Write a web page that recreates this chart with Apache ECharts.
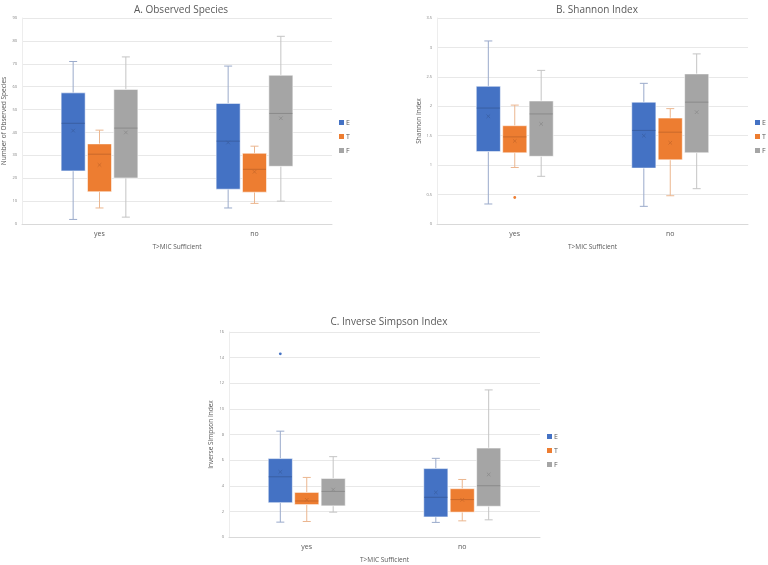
<!DOCTYPE html>
<html>
<head>
<meta charset="utf-8">
<script src="https://cdn.jsdelivr.net/npm/echarts@6/dist/echarts.min.js"></script>
<style>html,body{margin:0;padding:0;background:#fff}#c{width:768px;height:565px}</style>
</head>
<body>
<div id="c"></div>
<script>
const categories = ['yes', 'no'];
const seriesNames = ['E', 'T', 'F'];
const yTicksA = [0, 10, 20, 30, 40, 50, 60, 70, 80, 90];
const yTicksB = [0, 0.5, 1, 1.5, 2, 2.5, 3, 3.5];
const yTicksC = [0, 2, 4, 6, 8, 10, 12, 14, 16];
// each row: [min, Q1, median, Q3, max, mean]; rows ordered as categories (yes, no)
const observedE = [[2, 23.2, 44, 57.3, 71, 40.8], [7, 15.2, 36.2, 52.7, 69, 35.6]];
const observedT = [[7, 14.1, 30.5, 35, 41, 25.8], [9, 13.9, 23.9, 30.9, 34, 22.8]];
const observedF = [[3, 20.1, 41.9, 58.8, 73, 40], [10, 25.2, 48.3, 65, 82, 46.2]];
const shannonE = [[0.34, 1.23, 1.97, 2.34, 3.11, 1.83], [0.30, 0.95, 1.59, 2.07, 2.39, 1.50]];
const shannonT = [[0.96, 1.21, 1.48, 1.67, 2.02, 1.41], [0.48, 1.09, 1.56, 1.80, 1.96, 1.38]];
const shannonF = [[0.81, 1.15, 1.87, 2.09, 2.61, 1.70], [0.60, 1.21, 2.07, 2.55, 2.89, 1.90]];
const invSimpsonE = [[1.16, 2.68, 4.70, 6.12, 8.26, 5.08], [1.14, 1.57, 3.10, 5.34, 6.14, 3.48]];
const invSimpsonT = [[1.21, 2.53, 2.81, 3.48, 4.65, 2.90], [1.26, 1.94, 2.92, 3.77, 4.49, 2.90]];
const invSimpsonF = [[1.94, 2.43, 3.56, 4.57, 6.27, 3.70], [1.34, 2.40, 4.00, 6.94, 11.48, 4.88]];
// outliers: [series, category, value]
const shannonOutliers = [['T', 'yes', 0.45]];
const invSimpsonOutliers = [['E', 'yes', 14.3]];

const fillColors = ['#4472C4', '#ED7D31', '#A5A5A5'];
const darkColors = ['#3A5FA3', '#C9682A', '#8A8A8A'];
const whiskerColors = ['#9AAACB', '#EBB68F', '#C4C4C4'];
const FONT = '"Open Sans", "Noto Sans", sans-serif';

function boxRender(k) {
  return function (params, api) {
    const ci = api.value(0);
    const band = api.size([1, 0])[0];
    const off = (k - 1) * band * 0.17;
    const bw = band * 0.155;
    const c = i => api.coord([ci, api.value(i)]);
    const cx = c(1)[0] + off;
    const yMin = c(1)[1], yQ1 = c(2)[1], yMed = c(3)[1], yQ3 = c(4)[1], yMax = c(5)[1], yMean = c(6)[1];
    const cap = 4;
    const ws = { stroke: whiskerColors[k], lineWidth: 1 };
    const ms = 1.8;
    return {
      type: 'group',
      children: [
        { type: 'line', shape: { x1: cx, y1: yQ3, x2: cx, y2: yMax }, style: ws },
        { type: 'line', shape: { x1: cx, y1: yQ1, x2: cx, y2: yMin }, style: ws },
        { type: 'line', shape: { x1: cx - cap, y1: yMax, x2: cx + cap, y2: yMax }, style: ws },
        { type: 'line', shape: { x1: cx - cap, y1: yMin, x2: cx + cap, y2: yMin }, style: ws },
        { type: 'rect', shape: { x: cx - bw / 2, y: yQ3, width: bw, height: yQ1 - yQ3 },
          style: { fill: fillColors[k], stroke: 'rgba(255,255,255,0.55)', lineWidth: 1 } },
        { type: 'line', shape: { x1: cx - bw / 2 + 0.5, y1: yMed, x2: cx + bw / 2 - 0.5, y2: yMed },
          style: { stroke: darkColors[k], lineWidth: 1 } },
        { type: 'line', shape: { x1: cx - ms, y1: yMean - ms, x2: cx + ms, y2: yMean + ms },
          style: { stroke: darkColors[k], lineWidth: 0.8 } },
        { type: 'line', shape: { x1: cx - ms, y1: yMean + ms, x2: cx + ms, y2: yMean - ms },
          style: { stroke: darkColors[k], lineWidth: 0.8 } }
      ]
    };
  };
}

function outlierRender(params, api) {
  const ci = api.value(0);
  const k = api.value(2);
  const band = api.size([1, 0])[0];
  const off = (k - 1) * band * 0.17;
  const p = api.coord([ci, api.value(1)]);
  return { type: 'circle', shape: { cx: p[0] + off, cy: p[1], r: 1.4 }, style: { fill: fillColors[k] } };
}

const panels = [
  { title: 'A. Observed Species', yName: 'Number of Observed Species', ticks: yTicksA, data: [observedE, observedT, observedF], outliers: [],
    grid: { left: 21, right: 436, top: 18, bottom: 341 }, titleX: 176, titleY: 0, legend: { left: 339, top: 119 } },
  { title: 'B. Shannon Index', yName: 'Shannon Index', ticks: yTicksB, data: [shannonE, shannonT, shannonF], outliers: shannonOutliers,
    grid: { left: 437, right: 20, top: 18, bottom: 341 }, titleX: 592, titleY: 0, legend: { left: 755, top: 119 } },
  { title: 'C. Inverse Simpson Index', yName: 'Inverse Simpson Index', ticks: yTicksC, data: [invSimpsonE, invSimpsonT, invSimpsonF], outliers: invSimpsonOutliers,
    grid: { left: 229, right: 228, top: 332, bottom: 27 }, titleX: 384, titleY: 312, legend: { left: 547, top: 433 } }
];

const option = {
  animation: false,
  backgroundColor: '#fff',
  textStyle: { fontFamily: FONT },
  title: [], legend: [], grid: [], xAxis: [], yAxis: [], series: []
};

panels.forEach((p, gi) => {
  option.title.push({
    text: p.title, left: p.titleX, top: p.titleY, textAlign: 'center',
    textStyle: { fontSize: 10, fontWeight: 'normal', color: '#595959', fontFamily: FONT }
  });
  option.legend.push({
    data: seriesNames, orient: 'vertical', left: p.legend.left, top: p.legend.top,
    padding: 0, itemWidth: 5, itemHeight: 5, itemGap: 7, icon: 'rect',
    textStyle: { fontSize: 7, color: '#595959', padding: [0, 0, 0, -3] }
  });
  option.grid.push(Object.assign({ containLabel: false }, p.grid));
  const step = p.ticks[1] - p.ticks[0];
  option.xAxis.push({
    type: 'category', gridIndex: gi, data: categories,
    name: 'T>MIC Sufficient', nameLocation: 'middle', nameGap: 20,
    nameTextStyle: { fontSize: 6.5, color: '#595959' },
    axisLine: { lineStyle: { color: '#D9D9D9' } }, axisTick: { show: false },
    axisLabel: { fontSize: 7, color: '#595959', margin: 6 }
  });
  option.yAxis.push({
    type: 'value', gridIndex: gi, min: p.ticks[0], max: p.ticks[p.ticks.length - 1], interval: step,
    name: p.yName, nameLocation: 'middle', nameGap: 14,
    nameTextStyle: { fontSize: 6.5, color: '#595959' },
    axisLine: { show: true, lineStyle: { color: '#EDEDED' } }, axisTick: { show: false },
    axisLabel: { fontSize: 4, color: '#7F7F7F', margin: 5 },
    splitLine: { lineStyle: { color: '#E8E8E8' } }
  });
  p.data.forEach((rows, k) => {
    option.series.push({
      type: 'custom', name: seriesNames[k], xAxisIndex: gi, yAxisIndex: gi,
      itemStyle: { color: fillColors[k] },
      encode: { x: 0, y: [1, 2, 3, 4, 5, 6] },
      renderItem: boxRender(k),
      data: rows.map((r, ci) => [ci].concat(r)),
      z: 2
    });
  });
  if (p.outliers.length) {
    option.series.push({
      type: 'custom', name: 'outliers', xAxisIndex: gi, yAxisIndex: gi,
      encode: { x: 0, y: 1 },
      renderItem: outlierRender,
      data: p.outliers.map(o => [categories.indexOf(o[1]), o[2], seriesNames.indexOf(o[0])]),
      z: 3
    });
  }
});

const chart = echarts.init(document.getElementById('c'));
chart.setOption(option);
</script>
</body>
</html>
